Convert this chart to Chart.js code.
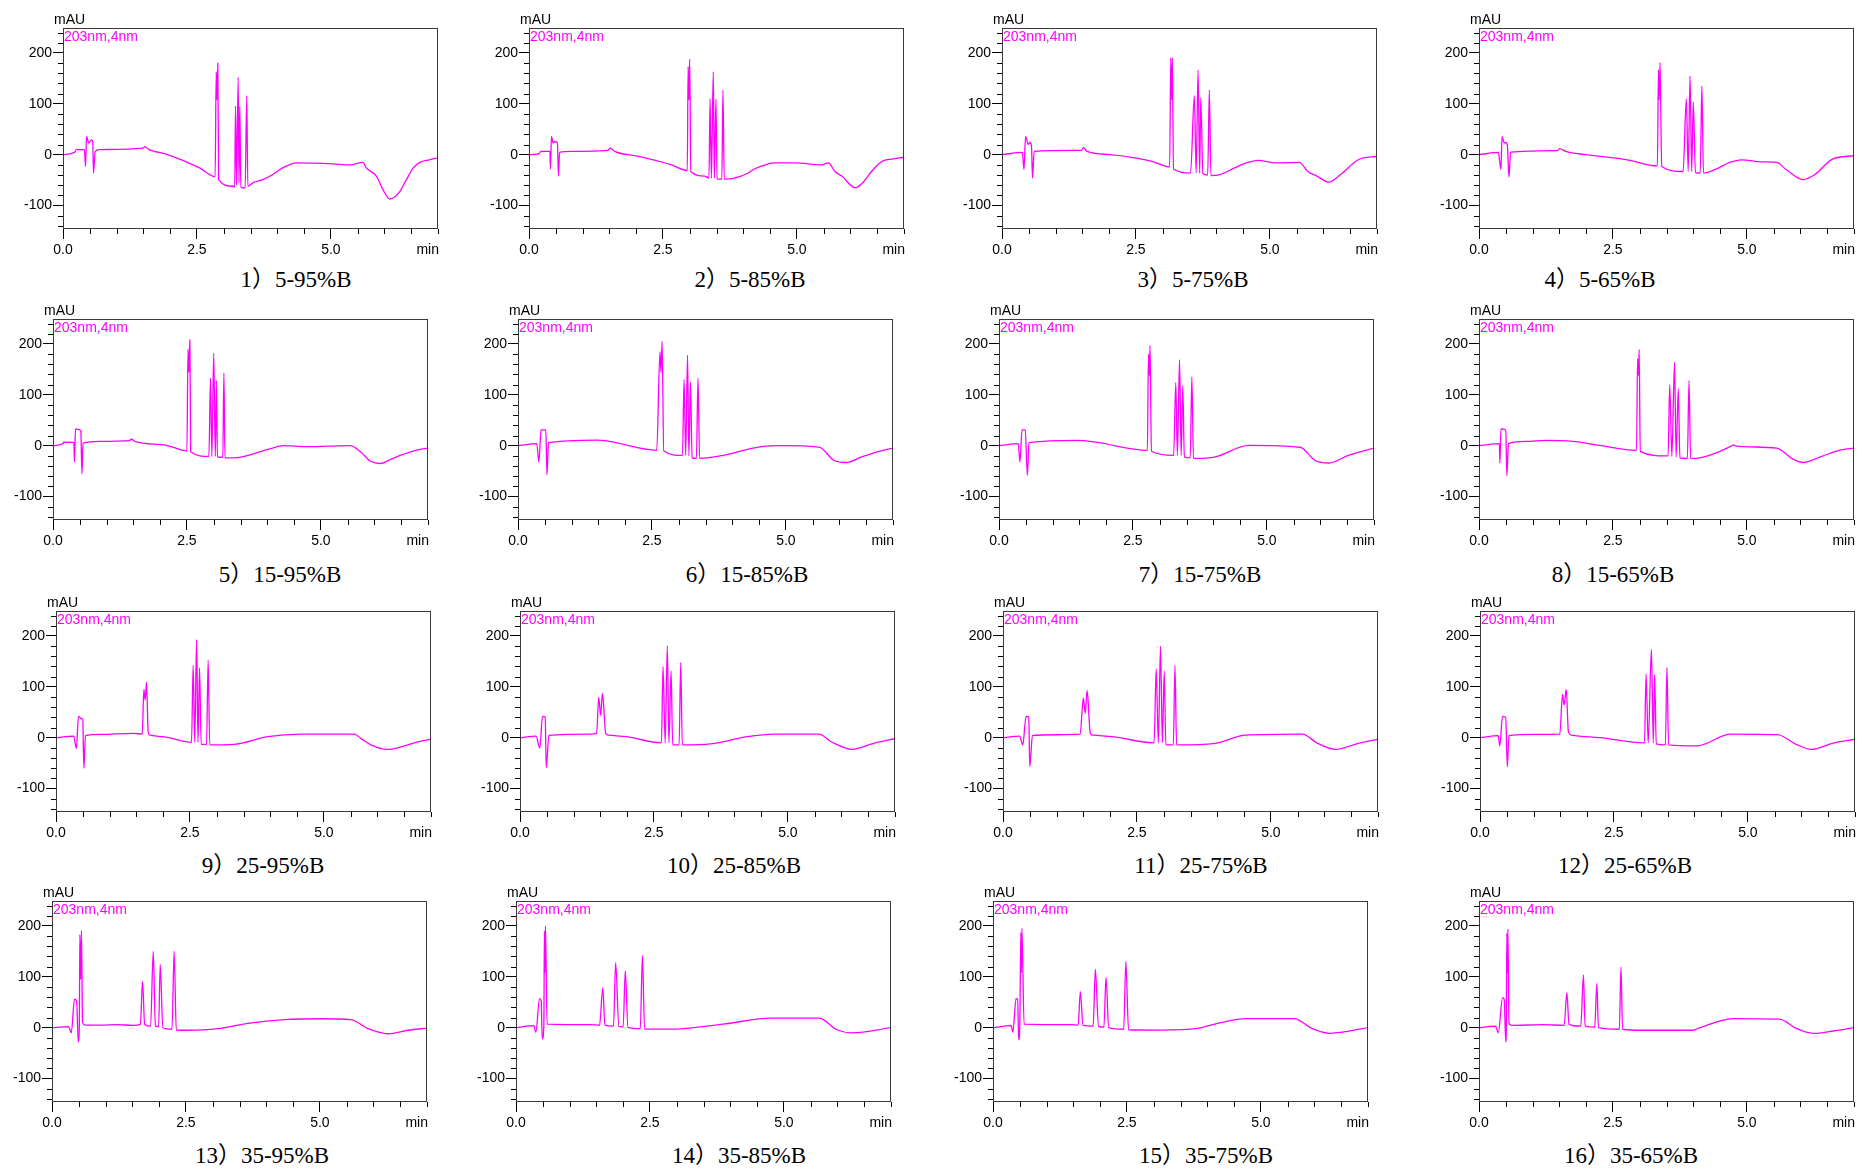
<!DOCTYPE html>
<html>
<head>
<meta charset="utf-8">
<script src="https://cdn.jsdelivr.net/npm/chart.js@4.4.1/dist/chart.umd.min.js"></script>
<style>
    body { margin: 0; background: #fff; width: 1859px; height: 1170px; overflow: hidden; position: relative; }
    .panel { position: absolute; }
    .cap { position: absolute; font: 23px/23px "Liberation Serif", "Times New Roman", "Noto Sans CJK SC", serif; color: #000; white-space: nowrap; transform: translateX(-50%); }
</style>
</head>
<body>
<script>
// captions under each chromatogram
const captions = ['1）5-95%B', '2）5-85%B', '3）5-75%B', '4）5-65%B',
    '5）15-95%B', '6）15-85%B', '7）15-75%B', '8）15-65%B',
    '9）25-95%B', '10）25-85%B', '11）25-75%B', '12）25-65%B',
    '13）35-95%B', '14）35-85%B', '15）35-75%B', '16）35-65%B'];

const xTickLabels = {0: '0.0', 2.5: '2.5', 5: '5.0'};
const yTickLabels = [200, 100, 0, -100];

// [time (min), signal (mAU)]
const run1 = [[0,0],[0.22,5],[0.25,10],[0.4,10],[0.42,-23],[0.44,36],[0.48,23],[0.53,29],[0.555,26],[0.57,-36],[0.6,6],[0.68,10],[1.49,13],[1.53,16],[1.59,11],[1.93,1],[2.55,-26],[2.84,-43],[2.86,163],[2.875,108],[2.89,180],[2.905,-49],[3.17,-62],[3.205,-64],[3.22,96],[3.24,-60],[3.27,152],[3.285,-55],[3.3,95],[3.32,-64],[3.40,-65],[3.43,116],[3.45,-62],[3.55,-55],[3.73,-49],[3.9,-40],[4.1,-26],[4.36,-16],[5.04,-18],[5.35,-20],[5.6,-15],[5.66,-26],[5.85,-42],[5.97,-68],[6.1,-87],[6.19,-83],[6.29,-72],[6.41,-49],[6.54,-26],[6.66,-15],[6.84,-10],[7,-6]];
const run2 = [[0,0],[0.19,2],[0.22,6.5],[0.39,6.5],[0.4,-28],[0.42,36],[0.45,23],[0.48,26],[0.53,23],[0.55,-42],[0.57,4.6],[0.79,6.5],[1.47,8.5],[1.52,13],[1.6,6.5],[2.03,-3],[2.66,-20],[2.955,-31],[2.97,173],[2.985,108],[3.0,188],[3.02,-33],[3.28,-42],[3.36,-46],[3.38,110],[3.405,-46],[3.44,163],[3.46,-46],[3.49,109],[3.51,-48],[3.60,-48],[3.62,127],[3.645,-48],[3.84,-46],[4.09,-36],[4.19,-29],[4.47,-18],[4.56,-16],[4.97,-16],[5.46,-20],[5.59,-16],[5.71,-33],[5.84,-42],[6.09,-65],[6.24,-54],[6.4,-32],[6.59,-13],[6.77,-8.5],[7,-5]];
const run3 = [[0,0],[0.38,4.6],[0.41,-29],[0.44,36],[0.49,20],[0.52,24],[0.55,18],[0.57,-46],[0.6,6.5],[1.48,8.5],[1.52,14],[1.59,6.5],[2.03,0],[2.8,-13],[3.13,-24],[3.15,190],[3.165,108],[3.18,191],[3.2,-28],[3.52,-36],[3.59,116],[3.625,-36],[3.66,167],[3.69,-36],[3.71,112],[3.75,-37],[3.84,-40],[3.87,127],[3.9,-41],[4.07,-39],[4.34,-26],[4.56,-16],[4.78,-11],[5.11,-16],[5.55,-15],[5.71,-33],[5.88,-42],[6.1,-54],[6.32,-39],[6.65,-10],[7,-3]];
const run4 = [[0,0],[0.36,4.6],[0.41,-29],[0.43,36],[0.47,23],[0.5,24],[0.53,18],[0.56,-44],[0.59,5],[1.46,8],[1.51,12],[1.62,6.5],[2.0,0],[2.77,-10],[3.33,-22],[3.35,167],[3.365,108],[3.38,181],[3.41,-23],[3.81,-33],[3.87,110],[3.905,-33],[3.94,155],[3.97,-33],[4.0,104],[4.04,-35],[4.13,-36],[4.16,135],[4.19,-36],[4.41,-29],[4.68,-15],[4.9,-10],[5.29,-14],[5.56,-15],[5.72,-28],[6.05,-49],[6.27,-39],[6.6,-8.5],[7,-2]];
const run5 = [[0,0],[0.19,4],[0.2,7],[0.39,6.5],[0.4,-32],[0.42,33],[0.5,31],[0.52,28],[0.54,-55],[0.56,5],[0.87,8.5],[1.43,10],[1.46,13],[1.53,8.5],[2.12,0.7],[2.5,-10],[2.52,190],[2.535,144],[2.555,208],[2.57,-12],[2.91,-21],[2.94,133],[2.965,-21],[3.0,182],[3.03,-21],[3.05,128],[3.07,-22],[3.17,-23],[3.19,143],[3.21,-24],[3.37,-24],[4.05,-6],[4.3,0],[4.74,-2],[5.55,0],[5.74,-12],[5.92,-30],[6.11,-35],[6.3,-27],[6.48,-19],[6.79,-8.5],[7,-4.6]];
const run6 = [[0,0],[0.35,4],[0.39,-32],[0.43,31],[0.52,31],[0.54,-57],[0.57,6],[1.47,11],[1.7,8.5],[2.59,-9],[2.65,185],[2.67,144],[2.69,205],[2.72,-10],[3.07,-19],[3.10,130],[3.13,-19],[3.165,178],[3.19,-20],[3.22,125],[3.25,-24],[3.33,-25],[3.36,133],[3.39,-25],[3.83,-19],[4.39,-4.6],[4.84,0],[5.62,-2.6],[5.9,-29],[6.13,-33],[6.41,-22],[6.74,-11],[7,-4.6]];
const run7 = [[0,0],[0.36,4],[0.39,-32],[0.43,31],[0.49,31],[0.53,-58],[0.56,6],[1.46,10.5],[1.8,7],[2.77,-9],[2.79,180],[2.805,138],[2.82,197],[2.845,-11],[3.26,-19],[3.3,124],[3.33,-19],[3.37,169],[3.40,-19],[3.43,118],[3.46,-22],[3.57,-24],[3.6,135],[3.63,-25],[4.04,-22],[4.66,0.7],[5.62,-3],[5.9,-29],[6.16,-34],[6.52,-19],[7,-4.6]];
const run8 = [[0,0],[0.38,4],[0.39,-34],[0.41,33],[0.5,31],[0.52,-59],[0.55,4],[0.88,8.5],[1.25,10.5],[1.75,8.5],[2.25,0.7],[2.94,-9],[2.96,171],[2.975,138],[2.99,189],[3.01,-11],[3.5,-20],[3.53,-20],[3.56,120],[3.6,-21],[3.65,164],[3.68,-22],[3.72,112],[3.75,-24],[3.89,-25],[3.92,128],[3.95,-25],[4.12,-24],[4.5,-11],[4.71,-0.7],[4.75,1.5],[4.8,-1],[5.56,-4.6],[5.68,-12],[5.87,-27],[6.05,-33],[6.37,-22],[6.74,-8.5],[7,-4.6]];
const run9 = [[0,0],[0.33,3],[0.38,-21],[0.42,42],[0.47,38],[0.5,36],[0.52,-60],[0.55,4],[0.83,6.5],[1.45,8.5],[1.61,7],[1.64,95],[1.665,74],[1.69,109],[1.72,12],[1.76,5],[2.08,0.7],[2.53,-9],[2.56,142],[2.59,-9],[2.625,193],[2.65,-9],[2.68,137],[2.71,-13],[2.81,-13],[2.84,152],[2.87,-14],[3.32,-13],[3.95,2],[4.57,7],[5.57,7],[5.69,-1.3],[5.88,-14],[6.19,-23],[6.44,-18],[6.75,-8],[7,-3]];
const run10 = [[0,0],[0.3,3],[0.37,-20],[0.42,42],[0.47,41],[0.49,-59],[0.54,4.6],[1.31,7],[1.43,8.5],[1.47,79],[1.505,44],[1.54,87],[1.6,8.5],[1.65,5],[1.99,2],[2.64,-10],[2.67,140],[2.71,-10],[2.75,181],[2.78,-10],[2.82,131],[2.85,-14],[2.97,-14],[3.0,148],[3.03,-14],[3.56,-12],[4.24,2],[4.74,7],[5.58,7],[5.81,-8],[6.2,-23],[6.6,-11],[7,-2]];
const run11 = [[0,0],[0.31,3],[0.37,-14],[0.43,42],[0.48,41],[0.5,-57],[0.55,4.6],[1.44,7],[1.5,78],[1.535,48],[1.57,93],[1.63,8.5],[1.68,5],[2.05,2],[2.82,-10],[2.86,135],[2.9,-10],[2.94,180],[2.975,-10],[3.01,131],[3.04,-14],[3.18,-14],[3.21,142],[3.24,-14],[3.96,-11],[4.52,5],[5.59,7],[5.87,-11],[6.21,-23],[6.6,-12],[7,-3]];
const run12 = [[0,0],[0.34,4],[0.37,-16],[0.42,42],[0.48,40],[0.51,-57],[0.54,4],[0.99,6.5],[1.49,7],[1.54,85],[1.57,64],[1.61,95],[1.65,12],[1.71,5],[2.24,0],[3.07,-10],[3.1,125],[3.14,-10],[3.2,174],[3.235,-10],[3.26,124],[3.29,-12],[3.46,-14],[3.49,138],[3.52,-14],[4.05,-16],[4.68,7],[5.55,6],[5.9,-13],[6.18,-23],[6.61,-10],[7,-3]];
const run13 = [[0,0],[0.31,2],[0.36,-10],[0.42,56],[0.46,52],[0.49,-28],[0.51,3],[0.52,183],[0.535,95],[0.55,191],[0.57,10],[0.62,5],[0.9,5],[1.21,6],[1.52,4.6],[1.65,6.5],[1.69,91],[1.73,6.5],[1.84,3],[1.89,150],[1.93,3],[1.99,2],[2.02,124],[2.07,0],[2.24,-3],[2.28,150],[2.32,-4.6],[2.52,-5],[3.09,-2],[3.65,8.5],[4.34,16],[5.02,17.6],[5.58,16],[5.9,-2],[6.27,-12],[6.65,-5],[7,-0.7]];
const run14 = [[0,0],[0.33,4],[0.37,-9],[0.44,57],[0.47,53],[0.49,-22],[0.52,4],[0.53,190],[0.54,108],[0.55,200],[0.58,7],[1.39,6],[1.56,5],[1.62,78],[1.66,5],[1.82,3],[1.86,128],[1.92,2.6],[2.0,1.5],[2.04,112],[2.09,0.7],[2.32,-2],[2.36,142],[2.4,-2.6],[2.96,-2.6],[3.86,7],[4.76,19],[5.66,19],[5.99,-4],[6.28,-10],[7,0]];
const run15 = [[0,0],[0.34,4],[0.37,-9],[0.43,57],[0.46,56],[0.48,-24],[0.5,4],[0.52,187],[0.53,108],[0.54,195],[0.58,7],[1.46,6],[1.59,5],[1.63,71],[1.68,5],[1.87,3],[1.91,115],[1.97,2.6],[2.07,1],[2.11,99],[2.16,0],[2.44,-3],[2.48,130],[2.53,-4],[3.14,-4.6],[3.82,-1.3],[4.21,9],[4.72,18],[5.62,18],[5.95,-1.3],[6.29,-11],[7,0]];
const run16 = [[0,0],[0.31,3],[0.36,-10],[0.44,59],[0.47,56],[0.5,-28],[0.51,3],[0.52,186],[0.53,108],[0.54,194],[0.56,8.5],[0.62,4.6],[1.19,6],[1.59,4.6],[1.64,69],[1.68,6.5],[1.9,3],[1.95,104],[1.98,3],[2.16,1.3],[2.2,87],[2.23,0],[2.62,-3],[2.65,119],[2.68,-3],[3.06,-5],[3.99,-5],[4.12,0],[4.49,13],[4.74,18],[5.61,17],[5.93,-2],[6.24,-11],[6.61,-6.5],[7,0]];

const runs = [run1, run2, run3, run4, run5, run6, run7, run8,
    run9, run10, run11, run12, run13, run14, run15, run16];

// layout of the plot boxes (page pixels)
const plotLeft = [63, 529, 1002, 1479, 53, 518, 999, 1479, 56, 520, 1003, 1480, 52, 516, 993, 1479];
const rowTop = [28, 319, 611, 901];
const captionX = [296, 750, 1193, 1600, 280, 747, 1200, 1613, 263, 734, 1201, 1625, 262, 739, 1206, 1631];
const captionBase = [287, 582, 873, 1163];

const PLOT_W = 375, PLOT_H = 201, PAD_L = 60, PAD_T = 28, PAD_R = 4, PAD_B = 30;
const majorX = [0, 2.5, 5];

Chart.defaults.font.family = '"Liberation Sans", Arial, sans-serif';

const frame = {
    id: 'frame',
    afterDraw(chart) {
        const {ctx, chartArea: a, scales} = chart;
        ctx.save();
        ctx.strokeStyle = '#3a3a3a';
        ctx.lineWidth = 1;
        ctx.strokeRect(a.left + 0.5, a.top + 0.5, a.width - 1, a.height - 1);
        // short minor ticks
        ctx.strokeStyle = '#000';
        ctx.beginPath();
        scales.y.ticks.forEach(t => {
            if (t.value % 100 !== 0) {
                const y = Math.round(scales.y.getPixelForValue(t.value)) + 0.5;
                ctx.moveTo(a.left - 5, y);
                ctx.lineTo(a.left, y);
            }
        });
        scales.x.ticks.forEach(t => {
            if (!majorX.includes(t.value)) {
                const x = Math.round(scales.x.getPixelForValue(t.value)) + 0.5;
                ctx.moveTo(x, a.bottom);
                ctx.lineTo(x, a.bottom + 5);
            }
        });
        ctx.stroke();

        ctx.fillStyle = '#000';
        ctx.font = '14px "Liberation Sans", Arial, sans-serif';
        ctx.textBaseline = 'alphabetic';
        ctx.textAlign = 'left';
        ctx.fillText('mAU', a.left - 9, a.top - 4);
        ctx.textAlign = 'right';
        ctx.fillText('min', a.right + 1, a.bottom + 25);

        ctx.fillStyle = '#ff00ff';
        ctx.font = '14px "Liberation Sans", Arial, sans-serif';
        ctx.textAlign = 'left';
        ctx.textBaseline = 'top';
        ctx.fillText('203nm,4nm', a.left + 1, a.top + 2);
        ctx.restore();
    }
};

runs.forEach((run, i) => {
    const row = Math.floor(i / 4);
    const W = PAD_L + PLOT_W + PAD_R, H = PAD_T + PLOT_H + PAD_B;

    const div = document.createElement('div');
    div.className = 'panel';
    div.style.left = (plotLeft[i] - PAD_L) + 'px';
    div.style.top = (rowTop[row] - PAD_T) + 'px';
    const canvas = document.createElement('canvas');
    canvas.width = W;
    canvas.height = H;
    canvas.style.width = W + 'px';
    canvas.style.height = H + 'px';
    div.appendChild(canvas);
    document.body.appendChild(div);

    const cap = document.createElement('div');
    cap.className = 'cap';
    cap.textContent = captions[i];
    cap.style.left = captionX[i] + 'px';
    cap.style.top = (captionBase[row] - 19) + 'px';
    document.body.appendChild(cap);

    new Chart(canvas, {
        type: 'line',
        data: {
            datasets: [{
                data: run.map(p => ({x: p[0], y: p[1]})),
                borderColor: '#ff00ff',
                borderWidth: 1.3,
                pointRadius: 0,
                cubicInterpolationMode: 'monotone',
                fill: false
            }]
        },
        options: {
            responsive: false,
            animation: false,
            devicePixelRatio: 1,
            layout: {padding: {top: PAD_T, right: PAD_R, left: 0, bottom: 0}},
            plugins: {legend: {display: false}, tooltip: {enabled: false}},
            scales: {
                x: {
                    type: 'linear',
                    min: 0,
                    max: 7,
                    afterFit(s) { s.height = PAD_B; },
                    border: {display: false},
                    grid: {
                        drawOnChartArea: false,
                        tickLength: 10,
                        tickColor: c => majorX.includes(c.tick.value) ? '#000' : 'rgba(0,0,0,0)'
                    },
                    ticks: {
                        stepSize: 0.5,
                        autoSkip: false,
                        maxRotation: 0,
                        padding: 3,
                        color: '#000',
                        font: {size: 14},
                        callback: v => xTickLabels[v] !== undefined ? xTickLabels[v] : ''
                    }
                },
                y: {
                    min: -146,
                    max: 249,
                    afterFit(s) { s.width = PAD_L; },
                    border: {display: false},
                    grid: {
                        drawOnChartArea: false,
                        tickLength: 10,
                        tickColor: c => c.tick.value % 100 === 0 ? '#000' : 'rgba(0,0,0,0)'
                    },
                    ticks: {
                        stepSize: 20,
                        includeBounds: false,
                        autoSkip: false,
                        padding: 1,
                        color: '#000',
                        font: {size: 14},
                        callback: v => yTickLabels.includes(v) ? String(v) : ''
                    }
                }
            }
        },
        plugins: [frame]
    });
});
</script>
</body>
</html>
